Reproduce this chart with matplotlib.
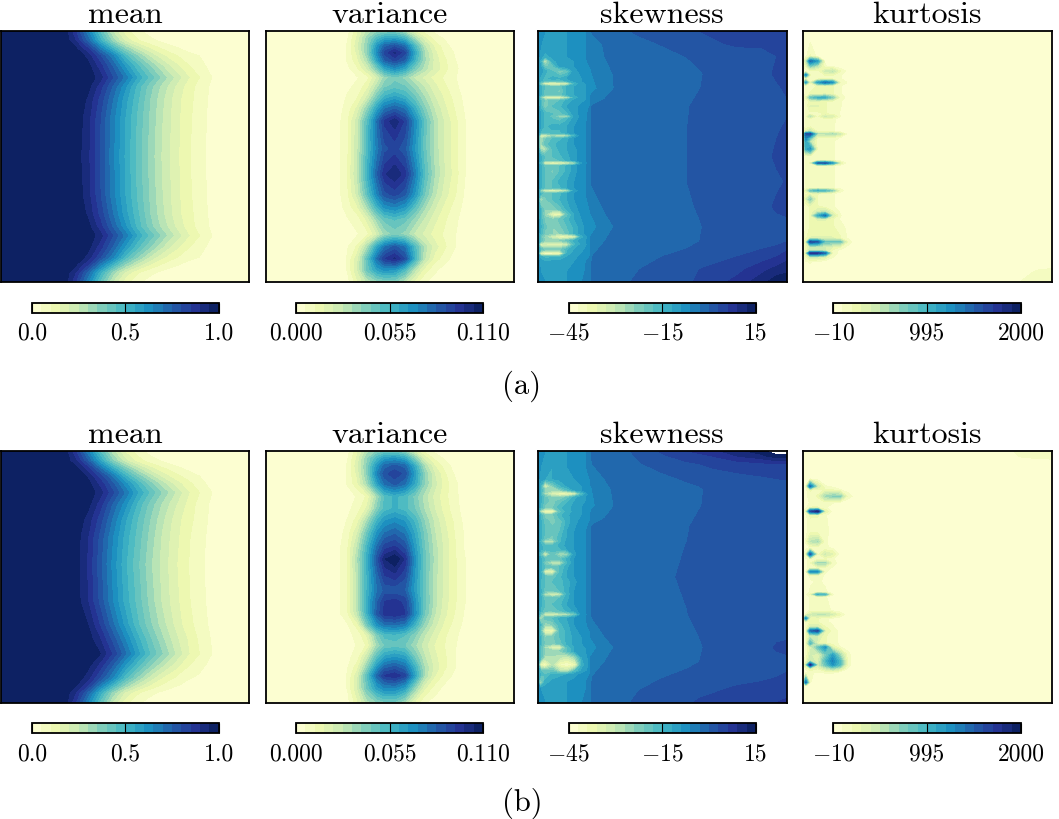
import numpy as np
import matplotlib
matplotlib.use('Agg')
import matplotlib.pyplot as plt

plt.rcParams['mathtext.fontset'] = 'cm'
plt.rcParams['font.family'] = ['cmr10', 'DejaVu Sans']
plt.rcParams['axes.unicode_minus'] = False
plt.rcParams['axes.formatter.use_mathtext'] = True

titles = ['mean', 'variance', 'skewness', 'kurtosis']
sublabels = ['(a)', '(b)']
ranges = [(0.0, 1.0), (0.0, 0.11), (-45, 15), (-10, 2000)]
tick_values = [[0.0, 0.5, 1.0], [0.0, 0.055, 0.11], [-45, -15, 15], [-10, 995, 2000]]
tick_labels = [['0.0', '0.5', '1.0'], ['0.000', '0.055', '0.110'],
               ['$-45$', '$-15$', '15'], ['$-10$', '995', '2000']]

# mean, in percent
mean_x = [0, .25, .3, .35, .4, .45, .5, .55, .6, .65, .7, .75, .8, .85, .9, 1]
mean_a_y = [0, .04, .07, .1, .14, .185, .22, .27, .34, .5, .66, .73, .78, .815, .86, .9, .93, .96, 1]
mean_a = [
    [100, 100, 85, 65, 43, 24, 12, 6, 3, 1, 0, 0, 0, 0, 0, 0],
    [100, 100, 90, 73, 52, 33, 19, 11, 6.5, 4, 2, 1, 0, 0, 0, 0],
    [100, 100, 96, 85, 67, 50, 34, 23, 15, 9.5, 6, 3.5, 2, .5, 0, 0],
    [100, 100, 100, 93, 80, 66, 48, 35, 24, 16, 11, 7, 5, 1, 0, 0],
    [100, 100, 100, 97, 87, 74, 59, 46, 35, 25, 17, 11, 7, 3, 0, 0],
    [100, 100, 100, 99, 92, 80, 68, 54, 43, 33, 24, 16, 10, 5, 1, 0],
    [100, 100, 100, 97, 87, 74, 61, 48, 37, 28, 20, 13, 8, 4, .5, 0],
    [100, 100, 100, 94, 83, 70, 57, 46, 35, 26, 18, 12, 8, 3.5, 0, 0],
    [100, 100, 99, 92, 80, 67, 55, 44, 34, 25, 17.5, 11.5, 7.5, 3, 0, 0],
    [100, 100, 98, 91, 79, 66, 54, 43, 33, 24, 17, 11, 7, 3, 0, 0],
    [100, 100, 99, 92, 80, 67, 55, 44, 34, 25, 17.5, 11.5, 7.5, 3, 0, 0],
    [100, 100, 100, 94, 83, 70, 57, 46, 35, 26, 18, 12, 8, 3.5, 0, 0],
    [100, 100, 100, 97, 87, 74, 61, 48, 37, 28, 20, 13, 8, 4, .5, 0],
    [100, 100, 100, 99, 92, 80, 68, 54, 43, 33, 24, 16, 10, 5, 1, 0],
    [100, 100, 100, 97, 87, 74, 59, 46, 35, 25, 17, 11, 7, 3, 0, 0],
    [100, 100, 100, 93, 80, 66, 48, 35, 24, 16, 11, 7, 5, 1, 0, 0],
    [100, 100, 96, 85, 67, 50, 34, 23, 15, 9.5, 6, 3.5, 2, .5, 0, 0],
    [100, 100, 90, 73, 52, 33, 19, 11, 6.5, 4, 2, 1, 0, 0, 0, 0],
    [100, 100, 85, 65, 43, 24, 12, 6, 3, 1, 0, 0, 0, 0, 0, 0],
]
mean_b_y = [0, .04, .07, .1, .13, .165, .21, .27, .34, .45, .6, .69, .75, .806, .85, .9, .93, .96, 1]
mean_b = [
    [100, 100, 85, 65, 44, 26, 14, 7, 3, 1, 0, 0, 0, 0, 0, 0],
    [100, 100, 91, 75, 55, 36, 22, 13, 7.5, 4.5, 2, 1, 0, 0, 0, 0],
    [100, 100, 97, 87, 70, 53, 38, 26, 17, 11, 7, 4, 2, .5, 0, 0],
    [100, 100, 100, 94, 82, 68, 51, 38, 27, 18, 12, 8, 5, 1, 0, 0],
    [100, 100, 100, 97, 88, 76, 62, 49, 37, 27, 18, 12, 7, 3, 0, 0],
    [100, 100, 100, 99, 92, 81, 69, 55, 44, 34, 25, 16, 10, 5, 1, 0],
    [100, 100, 100, 97, 87, 74, 62, 49, 38, 29, 21, 14, 8, 4, .5, 0],
    [100, 100, 99, 93, 82, 69, 56, 45, 35, 26, 18, 12, 8, 3.5, 0, 0],
    [100, 100, 98, 90, 78, 65, 53, 43, 33, 24, 17, 11, 7, 3, 0, 0],
    [100, 100, 98, 89, 76, 63, 51, 41, 31, 23, 16, 10.5, 6.5, 2.5, 0, 0],
    [100, 100, 98, 90, 78, 65, 53, 43, 33, 24, 17, 11, 7, 3, 0, 0],
    [100, 100, 100, 95, 84, 71, 58, 46, 36, 27, 19, 12, 8, 3.5, 0, 0],
    [100, 100, 100, 98, 90, 78, 65, 52, 41, 31, 22, 15, 9, 4.5, .5, 0],
    [100, 100, 100, 100, 95, 84, 71, 57, 45, 35, 25, 16, 10, 5, 1, 0],
    [100, 100, 100, 97, 88, 75, 60, 47, 36, 26, 18, 11, 7, 3, 0, 0],
    [100, 100, 100, 92, 79, 65, 47, 34, 23, 15, 10, 6, 4, 1, 0, 0],
    [100, 100, 96, 85, 67, 50, 34, 23, 15, 9.5, 6, 3.5, 2, .5, 0, 0],
    [100, 100, 90, 73, 52, 33, 19, 11, 6.5, 4, 2, 1, 0, 0, 0, 0],
    [100, 100, 85, 65, 43, 24, 12, 6, 3, 1, 0, 0, 0, 0, 0, 0],
]

# variance, in thousandths
var_x = [0, .28, .3, .33, .37, .41, .45, .48, .52, .56, .6, .64, .68, .72, .76, .8, .84, 1]
var_a_y = [0, .03, .06, .086, .115, .15, .185, .22, .26, .31, .36, .42, .47, .57, .65, .7, .75, .81, .86, .907, .95, 1]
var_a = [
    [0, 0, 1, 3, 15, 28, 36, 38, 38, 30, 16, 8, 4, 1.5, 0, 0, 0, 0],
    [0, 0, 2, 5, 18, 36, 52, 60, 62, 54, 34, 18, 9, 5, 1, 0, 0, 0],
    [0, 1, 3, 6, 20, 38, 66, 80, 86, 78, 52, 28, 15, 8, 3, .5, 0, 0],
    [0, 1, 3, 6, 18, 38, 70, 90, 100, 90, 60, 33, 18, 10, 5, 1, 0, 0],
    [0, 1, 3, 6, 15, 32, 62, 82, 90, 82, 56, 34, 20, 12, 6, 2, 0, 0],
    [0, 1, 2, 4, 10, 22, 42, 60, 68, 60, 42, 30, 20, 13, 7, 3, 0, 0],
    [0, 0, 1, 2.5, 5, 9, 22, 35, 42, 36, 26, 20, 14, 10, 6, 3, .5, 0],
    [0, 1, 2, 4, 7, 14, 30, 42, 46, 44, 35, 26, 18, 12, 7, 3, .5, 0],
    [0, 1, 3, 6, 10, 22, 42, 55, 60, 55, 44, 32, 22, 15, 9, 4, 1, 0],
    [0, 2, 4, 8, 18, 38, 62, 76, 82, 76, 58, 40, 27, 18, 11, 5, 1, 0],
    [0, 3, 5, 10, 25, 50, 78, 95, 103, 92, 70, 48, 31, 21, 13, 6, 1, 0],
    [0, 3, 5.5, 10, 26, 52, 76, 90, 95, 88, 68, 46, 31, 21, 13, 6, 1, 0],
    [0, 3, 5.5, 10, 26, 52, 74, 86, 90, 84, 66, 46, 31, 21, 13, 6, 1, 0],
    [0, 3, 5.5, 11, 28, 56, 82, 98, 104, 96, 74, 50, 33, 22, 14, 6, 1, 0],
    [0, 3, 5, 10, 24, 48, 72, 86, 90, 84, 66, 44, 29, 19, 12, 5, 1, 0],
    [0, 2, 4, 8, 16, 34, 56, 68, 72, 66, 50, 34, 23, 15, 9, 4, 1, 0],
    [0, 1, 3, 5, 8, 18, 36, 46, 50, 46, 36, 26, 18, 12, 7, 3, .5, 0],
    [0, 0, 1, 2.5, 5, 9, 22, 34, 40, 36, 26, 20, 14, 10, 6, 2.5, 0, 0],
    [0, 1, 2, 5, 12, 32, 60, 76, 84, 76, 52, 30, 19, 12, 6, 2, 0, 0],
    [0, 1, 3, 6, 20, 48, 78, 93, 100, 88, 56, 28, 14, 8, 3, .5, 0, 0],
    [0, 1, 3, 6, 22, 46, 62, 68, 66, 52, 30, 14, 7, 3, 1, 0, 0, 0],
    [0, 0, 1, 3, 15, 28, 36, 38, 38, 28, 14, 6, 3, 1, 0, 0, 0, 0],
]
var_b_y = [0, .03, .06, .09, .13, .18, .23, .28, .33, .38, .43, .49, .554, .6, .647, .69, .73, .773, .82, .86, .893, .94, 1]
var_b = [
    [0, 0, 1, 3, 15, 30, 38, 42, 42, 36, 20, 9, 4, 1.5, 0, 0, 0, 0],
    [0, 0, 2, 5, 18, 38, 54, 64, 66, 60, 40, 20, 10, 5, 1, 0, 0, 0],
    [0, 1, 3, 6, 20, 40, 66, 80, 84, 80, 58, 32, 17, 9, 3, .5, 0, 0],
    [0, 1, 3, 6, 18, 40, 72, 86, 92, 86, 64, 38, 22, 12, 5, 1, 0, 0],
    [0, 1, 3, 6, 15, 34, 62, 78, 84, 78, 60, 38, 24, 14, 7, 2, 0, 0],
    [0, 0, 1, 3, 6, 12, 34, 50, 56, 52, 42, 30, 20, 13, 7, 3, .5, 0],
    [0, 1, 2, 4, 8, 18, 40, 52, 56, 52, 44, 32, 22, 14, 8, 3, .5, 0],
    [0, 1, 3, 6, 14, 34, 56, 66, 70, 66, 54, 38, 26, 17, 10, 4, 1, 0],
    [0, 2, 4, 8, 22, 46, 68, 78, 82, 76, 60, 42, 28, 19, 11, 5, 1, 0],
    [0, 3, 5, 10, 28, 54, 78, 90, 94, 86, 64, 44, 30, 20, 12, 5, 1, 0],
    [0, 3, 5.5, 11, 32, 58, 86, 104, 110, 98, 68, 46, 31, 20, 12, 6, 1, 0],
    [0, 3, 5.5, 11, 30, 56, 80, 94, 98, 90, 66, 45, 30, 20, 12, 6, 1, 0],
    [0, 3, 5.5, 11, 30, 56, 76, 84, 84, 82, 64, 45, 30, 20, 12, 6, 1, 0],
    [0, 3, 5, 11, 30, 58, 82, 94, 96, 92, 68, 46, 30, 19, 12, 6, 1, 0],
    [0, 3, 5, 10, 28, 56, 84, 96, 98, 94, 70, 44, 28, 18, 11, 5, 1, 0],
    [0, 1, 3, 5, 14, 44, 68, 76, 78, 74, 56, 36, 24, 15, 9, 4, .5, 0],
    [0, 1, 2, 4, 7, 18, 42, 52, 54, 50, 40, 28, 19, 12, 7, 3, .5, 0],
    [0, 0, 1, 3, 6, 12, 34, 44, 46, 44, 34, 24, 16, 11, 6, 3, 0, 0],
    [0, 1, 2, 4, 8, 26, 50, 62, 66, 62, 44, 28, 18, 12, 6, 2.5, 0, 0],
    [0, 1, 3, 5, 14, 38, 66, 80, 84, 78, 56, 32, 20, 12, 6, 2, 0, 0],
    [0, 1, 3, 6, 20, 50, 80, 94, 98, 90, 62, 32, 17, 9, 4, 1, 0, 0],
    [0, 1, 3, 6, 22, 46, 64, 72, 72, 64, 38, 18, 9, 4, 1, 0, 0, 0],
    [0, 0, 1, 3, 15, 30, 38, 42, 42, 32, 15, 6, 3, 1, 0, 0, 0, 0],
]

# skewness, far field
skew_x = [.18, .22, .27, .32, .4, .5, .6, .65, .7, .8, .9, .96, 1]
skew_a_y = [0, .05, .1, .17, .23, .3, .4, .5, .6, .7, .78, .84, .9, .95, 1]
skew_a = [
    [-7, -2.5, -2, -1, .5, 1.5, 2, 3, 3.5, 4.5, 5, 6, 6],
    [-7, -5, -2.5, -2, -1, .2, 1.5, 2, 2.5, 3.5, 3.5, 4, 4],
    [-7, -5, -3, -2, -1.5, -1, .1, 1, 1.5, 1.5, 2, 3, 3.5],
    [-7, -6, -4, -2.5, -1.5, -1.5, -1.2, -.4, 1, 1.5, 1.8, 3.6, 4.5],
    [-8, -7, -4.5, -2.5, -1.5, -1.5, -1, -.1, 1, 1.5, 1.5, 2.5, 3.5],
    [-7, -2.8, -2, -1.5, -1.5, -1.5, -.3, 1, 1.5, 1.5, 1.5, 2, 2.5],
    [-6.5, -2.5, -2, -1.5, -1.5, -1.5, 0, 1.2, 1.5, 1.5, 1.5, 2.8, 3.5],
    [-6.5, -2.5, -2, -1.5, -1.5, -1.5, 0, 1.2, 1.5, 1.5, 2, 3.5, 4],
    [-6.5, -2.5, -2, -1.5, -1.5, -1.5, 0, 1.2, 1.5, 1.5, 1.5, 2.5, 3.2],
    [-7, -5, -2.5, -1.5, -1.5, -1.5, -.6, .4, 1.2, 1.5, 2, 3.5, 4],
    [-8, -7, -4.5, -2.5, -1.5, -1.5, -1, -.3, 1, 1.5, 1.5, 1.8, 2],
    [-7, -5, -3, -2, -1.5, -1.5, -1, 0, 1, 1.5, 1.5, 2, 3],
    [-7, -3, -2.5, -2, -1.2, 0, 1.2, 1.6, 2, 3, 4.5, 6, 8],
    [-7, -2.5, -2, -1.2, -.2, 1.5, 2.5, 3, 3.5, 5, 8, 10, 11],
    [-7, -2.5, -2, -1, .5, 1.5, 2.5, 3.5, 4.5, 7, 11, 14, 14.5],
]
skew_b_y = [0, .02, .05, .11, .15, .22, .3, .4, .5, .65, .72, .78, .84, .9, .95, 1]
skew_b = [
    [-7, -2.5, -2, -1, .5, 3.5, 6, 7, 8, 11, 14, 18, 18],
    [-7, -2.5, -2, -1.2, .2, 2.5, 4.5, 5, 6, 9, 11, 14, 14],
    [-7, -3, -2.5, -1.5, -.4, 1.5, 2.5, 3, 3.5, 4.5, 5.5, 6, 6],
    [-7, -5, -3, -2, -1.5, -1, .5, 1.5, 1.8, 2, 2.5, 3, 3.2],
    [-7, -6, -3.5, -2.5, -1.5, -1.5, -1, -.5, 1, 1.5, 1.6, 1.7, 1.8],
    [-8, -6.5, -4.5, -2.5, -1.5, -1.5, -1, -.2, 1, 1.5, 1.5, 1.5, 1.5],
    [-7, -2.8, -2, -1.5, -1.5, -1.5, -.3, 1, 1.5, 1.5, 1.5, 1.5, 1.5],
    [-6.5, -2.5, -2, -1.5, -1.5, -1.2, .2, 1.2, 1.5, 1.5, 1.5, 1.5, 1.5],
    [-6.5, -2.5, -2, -1.5, -1.5, -.6, .5, 1.3, 1.5, 1.5, 1.5, 1.5, 1.5],
    [-6.5, -2.5, -2, -1.5, -1.5, -1.2, -.1, 1, 1.5, 1.5, 1.5, 1.5, 1.5],
    [-7, -5, -2.5, -1.5, -1.5, -1.5, -.8, .2, 1.2, 1.5, 1.5, 1.7, 1.8],
    [-8, -7, -4.5, -2.5, -1.5, -1.5, -1.2, -.4, 1, 1.5, 1.6, 3.5, 4],
    [-7, -5, -3, -2, -1.5, -1.5, -1, 0, 1.2, 1.5, 1.5, 1.6, 2],
    [-7, -3, -2.5, -2, -1.2, -.2, 1.2, 1.6, 1.8, 2, 2.5, 3, 3.5],
    [-7, -2.5, -2, -1.2, -.2, 1.5, 1.8, 2, 2.6, 3.5, 4, 4.5, 5],
    [-7, -2.5, -2, -1, .5, 1.5, 2.5, 3.5, 3.8, 4.5, 5, 6, 6.5],
]

# skewness, near the left wall
wall_x = [0, .012, .03, .06, .09, .12, .15, .18, .21]
skew_wall_a_y = [0, .06, .1, .12, .14, .16, .19, .198, .21, .222, .24, .253, .265, .277, .3, .33, .34, .35, .38,
                 .405, .417, .429, .45, .47, .5, .514, .526, .538, .56, .6, .624, .636, .648, .67, .71, .73, .75,
                 .78, .805, .82, .835, .85, .87, .887, .9, .92, .96, 1]
skew_wall_a = [
    [-7, -8, -9, -11, -11, -9, -8, -7, -5],
    [-7, -9, -10, -12, -11, -9, -8, -7, -5],
    [-8, -10, -14, -11, -10, -9, -8, -7, -5],
    [-8, -14, -34, -14, -10, -9, -9, -8, -5],
    [-8, -12, -22, -20, -11, -10, -9, -8, -6],
    [-8, -10, -14, -18, -24, -20, -10, -8, -6],
    [-8, -14, -16, -14, -15, -12, -11, -9, -7],
    [-8, -14, -18, -18, -18, -14, -11, -9, -7],
    [-9, -26, -38, -40, -38, -36, -16, -10, -8],
    [-8, -14, -18, -20, -20, -14, -12, -10, -8],
    [-8, -14, -20, -20, -22, -14, -12, -10, -8],
    [-8, -14, -20, -20, -20, -14, -12, -10, -8],
    [-9, -24, -35, -38, -36, -30, -15, -10, -8],
    [-8, -16, -22, -20, -18, -14, -11, -10, -8],
    [-8, -16, -24, -18, -16, -12, -10, -8, -6],
    [-8, -12, -16, -18, -20, -16, -10, -8, -5],
    [-8, -12, -16, -20, -28, -28, -11, -8, -5],
    [-8, -12, -16, -18, -20, -16, -10, -8, -5],
    [-8, -12, -16, -14, -14, -12, -9, -7, -5],
    [-8, -16, -18, -16, -16, -12, -9, -7, -5],
    [-9, -34, -36, -28, -34, -30, -16, -7, -5],
    [-8, -28, -22, -18, -16, -13, -9, -7, -5],
    [-8, -28, -20, -16, -14, -12, -9, -7, -5],
    [-8, -28, -30, -18, -14, -12, -10, -7, -5],
    [-8, -14, -18, -18, -16, -13, -10, -7, -5],
    [-8, -14, -20, -20, -18, -14, -10, -7, -5],
    [-9, -18, -38, -40, -40, -36, -30, -10, -5],
    [-8, -14, -20, -20, -18, -14, -10, -7, -5],
    [-8, -14, -18, -22, -18, -14, -10, -7, -5],
    [-8, -14, -18, -18, -14, -12, -9, -7, -5],
    [-8, -14, -18, -18, -16, -12, -9, -7, -5],
    [-9, -26, -36, -38, -36, -30, -12, -7, -5],
    [-8, -16, -20, -18, -16, -12, -9, -7, -5],
    [-8, -30, -22, -18, -15, -12, -9, -8, -5],
    [-8, -16, -24, -24, -20, -14, -10, -8, -6],
    [-8, -16, -26, -38, -40, -20, -12, -8, -6],
    [-8, -16, -22, -24, -20, -16, -12, -9, -6],
    [-8, -14, -20, -24, -22, -18, -14, -10, -7],
    [-8, -16, -22, -24, -24, -20, -14, -10, -7],
    [-9, -20, -26, -34, -40, -40, -36, -14, -8],
    [-8, -18, -24, -24, -24, -20, -14, -10, -8],
    [-9, -36, -34, -38, -36, -32, -16, -11, -8],
    [-8, -18, -22, -22, -22, -16, -12, -10, -7],
    [-8, -36, -42, -42, -40, -14, -11, -9, -6],
    [-8, -14, -16, -16, -16, -12, -10, -8, -6],
    [-7, -10, -12, -11, -11, -10, -9, -7, -5],
    [-7, -9, -10, -12, -12, -9, -8, -7, -4],
    [-7, -8, -9, -10, -10, -9, -8, -6, -4],
]
skew_wall_b_y = [0, .06, .11, .14, .155, .17, .185, .2, .225, .24, .255, .28, .32, .345, .36, .375, .39, .41, .43, .445,
                 .46, .48, .5, .52, .555, .57, .585, .61, .635, .65, .665, .69, .715, .74, .765, .78, .795, .82, .85,
                 .875, .89, .92, .95, 1]
skew_wall_b = [
    [-7, -8, -9, -11, -11, -9, -8, -7, -5],
    [-7, -9, -11, -12, -11, -9, -8, -7, -5],
    [-8, -10, -12, -12, -11, -10, -9, -8, -6],
    [-8, -16, -36, -24, -16, -12, -10, -9, -7],
    [-8, -14, -24, -26, -24, -18, -12, -9, -7],
    [-8, -16, -28, -36, -40, -40, -36, -18, -8],
    [-8, -14, -20, -24, -24, -20, -13, -10, -8],
    [-8, -14, -20, -22, -20, -16, -12, -10, -8],
    [-8, -16, -22, -22, -16, -13, -11, -9, -7],
    [-9, -30, -42, -42, -20, -14, -11, -9, -7],
    [-8, -16, -22, -22, -16, -13, -10, -9, -7],
    [-8, -14, -20, -22, -20, -14, -10, -8, -6],
    [-8, -14, -18, -20, -18, -12, -9, -7, -5],
    [-8, -14, -20, -22, -16, -12, -9, -7, -5],
    [-8, -18, -30, -30, -16, -11, -9, -7, -5],
    [-8, -14, -18, -18, -14, -11, -9, -7, -5],
    [-8, -14, -16, -16, -16, -12, -9, -7, -5],
    [-8, -20, -36, -20, -28, -26, -10, -7, -5],
    [-8, -14, -18, -20, -20, -14, -9, -7, -5],
    [-8, -14, -24, -32, -32, -16, -9, -7, -5],
    [-8, -14, -18, -20, -18, -13, -9, -7, -5],
    [-8, -14, -36, -38, -18, -12, -9, -7, -5],
    [-8, -14, -18, -20, -16, -12, -9, -7, -5],
    [-8, -16, -18, -18, -16, -14, -10, -7, -5],
    [-8, -14, -20, -20, -18, -13, -9, -7, -5],
    [-8, -14, -30, -34, -32, -14, -9, -7, -5],
    [-8, -14, -20, -20, -18, -13, -9, -7, -5],
    [-8, -14, -18, -18, -16, -12, -9, -7, -5],
    [-8, -16, -20, -20, -18, -14, -11, -7, -5],
    [-9, -22, -32, -34, -32, -30, -22, -8, -5],
    [-9, -32, -20, -18, -14, -12, -9, -7, -5],
    [-8, -16, -26, -24, -16, -13, -9, -8, -5],
    [-8, -20, -38, -40, -18, -14, -10, -8, -6],
    [-8, -16, -24, -22, -18, -14, -11, -9, -7],
    [-8, -16, -22, -22, -20, -14, -11, -9, -7],
    [-8, -18, -28, -38, -38, -18, -12, -10, -8],
    [-8, -18, -24, -24, -24, -18, -12, -10, -8],
    [-8, -18, -28, -28, -30, -32, -26, -12, -8],
    [-9, -38, -42, -30, -40, -42, -38, -14, -8],
    [-8, -18, -20, -20, -28, -30, -18, -11, -8],
    [-8, -16, -18, -14, -13, -12, -10, -8, -6],
    [-8, -30, -14, -11, -10, -9, -8, -7, -5],
    [-7, -9, -10, -11, -11, -9, -8, -7, -5],
    [-7, -8, -9, -10, -10, -9, -8, -6, -4],
]

# kurtosis, in hundreds
kurt_x = [.2, .8, .88, .95, 1]
kurt_a_y = [0, .93, .96, 1]
kurt_a = [
    [0, 0, 0, 0, 0],
    [0, 0, 0, .2, .3],
    [0, 0, .4, 1.2, 1.4],
    [0, 0, 1, 1.4, 1.5],
]
kurt_b_y = [0, .02, .05, 1]
kurt_b = [
    [0, .2, 1.4, 1.5, 1.6],
    [0, 0, 1.1, 1.3, 1.4],
    [0, 0, 0, .1, .2],
    [0, 0, 0, 0, 0],
]
kurt_wall_a_y = [0, .1, .12, .14, .16, .175, .19, .205, .218, .25, .265, .28, .3, .33, .34, .35, .38, .4, .41, .425, .44, .47,
                 .5, .515, .526, .537, .56, .6, .625, .636, .647, .67, .7, .72, .735, .75, .78, .825, .84, .86, .875, .885, .9,
                 .92, 1]
kurt_wall_a = [
    [0, 0, 0, 0, 0, 0, 0, 0, 0],
    [0, .5, 2, .5, 0, 0, 0, 0, 0],
    [0, 4, 14, 11, .5, 0, 0, 0, 0],
    [0, 2, 7, 5, 1, .5, 0, 0, 0],
    [0, .5, 1, 1, 4, 5, 2, .5, 0],
    [0, 12, 2, 1, 2, 2, 1, .5, 0],
    [0, 2, 1, 1, 1.5, 1.5, 1, .5, 0],
    [0, 11, 2, 11, 14, 12, 2, .8, 0],
    [0, 1, 1.5, 2, 2.5, 2, 1, .5, 0],
    [0, 1, 2, 2, 2.5, 2, 1, .5, 0],
    [0, 2, 8, 10, 10, 7, 1.5, .5, 0],
    [0, 1, 2.5, 2.5, 2, 1.5, 1, .4, 0],
    [0, 1, 3, 3, 2, 1.5, 1, .3, 0],
    [0, 1, 1.5, 1.5, 2, 1.5, .8, .2, 0],
    [0, 1, 5, 1.5, 4, 3.5, 1, .2, 0],
    [0, 1, 1.5, 1.2, 1.5, 1.2, .5, .2, 0],
    [0, 1, 1.5, 1, 1, 1, .5, .1, 0],
    [0, 3, 5, 1.5, 1, 1, .5, .1, 0],
    [0, 15, 16, 5, 5, 6, 4, .2, 0],
    [0, 13, 9, 1.5, 1.5, 1.5, .8, .1, 0],
    [0, 11, 5, 1, 1, 1, .5, .1, 0],
    [0, 10, 12, 1.5, 1, 1, .5, .1, 0],
    [0, 1, 1, 1.5, 1.5, 1, .5, .1, 0],
    [0, 1, 1.2, 1.5, 1.5, 1, .5, .1, 0],
    [0, 1, 2, 14, 15, 11, 3, .1, 0],
    [0, 1, 1.2, 1.5, 1.5, 1, .5, .1, 0],
    [0, 1, 1, 1.5, 1.5, 1, .5, .1, 0],
    [0, 1, 1.5, 1.5, 1, 1, .5, .1, 0],
    [0, 1, 1.5, 1.5, 1.2, 1, .5, .1, 0],
    [0, 3, 8, 10, 9, 7, 1.5, .1, 0],
    [0, 1.5, 2, 2, 1.5, 1, .5, .1, 0],
    [0, 3, 7, 1.5, 1, 1, .5, .1, 0],
    [0, 1, 2, 2, 1.5, 1, .5, .2, 0],
    [0, 1, 2, 4, 5, 2, .8, .3, 0],
    [0, 1, 2, 10, 14, 4, 1, .3, 0],
    [0, 1, 2, 3, 3, 2, .8, .3, 0],
    [0, 1, 2, 2.5, 2.5, 2, 1.5, .5, 0],
    [0, 1.5, 3, 3, 3, 3, 2, .8, 0],
    [0, 3, 16, 15, 8, 8, 8, 2, 0],
    [0, 2, 4, 4, 4, 3, 2, .5, 0],
    [0, 2, 5, 5, 4, 1.5, .5, .2, 0],
    [0, 3, 17, 17, 14, 1.5, .5, .2, 0],
    [0, 1.5, 4, 4, 3, 1, .3, 0, 0],
    [0, .8, 1, .5, .2, 0, 0, 0, 0],
    [0, 0, 0, 0, 0, 0, 0, 0, 0],
]
kurt_wall_b_y = [0, .11, .14, .155, .18, .205, .225, .24, .255, .32, .36, .385, .41, .43, .445, .465, .48, .495, .52, .56, .57, .58,
                 .635, .65, .665, .68, .7, .715, .735, .765, .78, .81, .835, .85, .865, .88, .92, .935, 1]
kurt_wall_b = [
    [0, 0, 0, 0, 0, 0, 0, 0, 0],
    [0, 0, .5, .3, 0, 0, 0, 0, 0],
    [0, 1, 14, 4, 1, .5, 0, 0, 0],
    [0, .5, 2, 1.5, 2, 2, 1, .5, 0],
    [0, .5, 1.5, 2, 6, 7, 7, 1.5, .5],
    [0, .5, 1, 1.5, 1.5, 1, .5, .2, 0],
    [0, .5, 2, 2, 1, .5, .2, 0, 0],
    [0, 2, 16, 19, 3, .5, .2, 0, 0],
    [0, .5, 2, 2, 1, .5, .2, 0, 0],
    [0, .5, 1.5, 1.2, 1, .8, .3, 0, 0],
    [0, 1, 5, 6, 1, .6, .3, 0, 0],
    [0, .5, 1, 1, 1, .8, .3, 0, 0],
    [0, 2, 15, 1.5, 4, 3, .5, 0, 0],
    [0, .5, 1.5, 1.5, 1.5, 1, .4, 0, 0],
    [0, .5, 1.5, 6, 6, 1.5, .4, 0, 0],
    [0, .5, 1.5, 1.5, 1.2, .8, .3, 0, 0],
    [0, .5, 12, 12, 1, .5, .2, 0, 0],
    [0, .5, 1, 1.2, .8, .5, .2, 0, 0],
    [0, .5, .8, 1, .8, .5, .2, 0, 0],
    [0, .5, 1, 1.2, 1, .5, .2, 0, 0],
    [0, .5, 2, 10, 9, 1, .2, 0, 0],
    [0, .5, 1, 1.2, 1, .5, .2, 0, 0],
    [0, .5, 1, 1.5, 1.2, .8, .3, 0, 0],
    [0, 1, 4, 5, 5, 4, 2, .1, 0],
    [0, 12, 2, 2, 1, .8, .3, 0, 0],
    [0, 1, 2, 2, 1, .8, .3, 0, 0],
    [0, 1, 4, 4, 2, 1, .4, 0, 0],
    [0, 1, 14, 16, 3, 1.5, .5, 0, 0],
    [0, 1, 4, 4, 2, 1.5, .5, 0, 0],
    [0, 1, 9, 3, 2, 1.5, .6, .2, 0],
    [0, 1, 3, 8, 12, 3, 1, .3, 0],
    [0, 1, 4, 3, 7, 11, 6, 1.5, 0],
    [0, 1.5, 5, 3, 9, 13, 9, 1.5, 0],
    [0, 4, 18, 4, 8, 12, 9, 1.5, 0],
    [0, 1, 3, 2, 4, 6, 4, .8, 0],
    [0, .5, 1, .8, 1, 1, .5, 0, 0],
    [0, 14, 1, 0, 0, 0, 0, 0, 0],
    [0, .3, .2, 0, 0, 0, 0, 0, 0],
    [0, 0, 0, 0, 0, 0, 0, 0, 0],
]

W, H = 1059, 820
panel_x = [(1, 249), (265.5, 514), (537.5, 787), (802.7, 1052)]
panel_y = [(32, 283), (452, 703.5)]
cbar_x = [(32, 218.7), (296, 483), (568.5, 756), (833, 1021)]
cbar_y = [(303.5, 313.5), (724, 734)]
sub_y = [386, 803]


def px_axes(fig, x0, y0, x1, y1):
    return fig.add_axes([x0 / W, 1 - y1 / H, (x1 - x0) / W, (y1 - y0) / H])


def draw_field(ax, levels, x, y, z, scale=1.0):
    return ax.contourf(x, y, np.array(z, dtype=float) * scale, levels=levels, cmap='YlGnBu')


fig = plt.figure(figsize=(W / 100, H / 100), dpi=100)

fields = [
    [[(mean_x, mean_a_y, mean_a, 0.01)], [(var_x, var_a_y, var_a, 0.001)],
     [(skew_x, skew_a_y, skew_a, 1), (wall_x, skew_wall_a_y, skew_wall_a, 1)],
     [(kurt_x, kurt_a_y, kurt_a, 100), (wall_x, kurt_wall_a_y, kurt_wall_a, 100)]],
    [[(mean_x, mean_b_y, mean_b, 0.01)], [(var_x, var_b_y, var_b, 0.001)],
     [(skew_x, skew_b_y, skew_b, 1), (wall_x, skew_wall_b_y, skew_wall_b, 1)],
     [(kurt_x, kurt_b_y, kurt_b, 100), (wall_x, kurt_wall_b_y, kurt_wall_b, 100)]],
]

for r in range(2):
    for c in range(4):
        ax = px_axes(fig, panel_x[c][0], panel_y[r][0], panel_x[c][1], panel_y[r][1])
        levels = np.linspace(ranges[c][0], ranges[c][1], 21)
        cs = None
        for x, y, z, scale in fields[r][c]:
            cs = draw_field(ax, levels, x, y, z, scale)
        ax.set_xlim(0, 1)
        ax.set_ylim(1, 0)
        ax.set_xticks([])
        ax.set_yticks([])
        for s in ax.spines.values():
            s.set_linewidth(1.3)
        ax.text(0.5, 1.012, titles[c], transform=ax.transAxes, ha='center', va='bottom', fontsize=23)

        cax = px_axes(fig, cbar_x[c][0], cbar_y[r][0], cbar_x[c][1], cbar_y[r][1])
        cb = fig.colorbar(cs, cax=cax, orientation='horizontal', ticks=tick_values[c])
        cb.ax.set_xticklabels(tick_labels[c], fontsize=17)
        cb.ax.tick_params(direction='in', length=7.2, width=0.8, pad=6.5)
        cb.outline.set_linewidth(1.3)

    fig.text(522 / W, 1 - sub_y[r] / H, sublabels[r], ha='center', va='center', fontsize=22)

fig.savefig('out.png', dpi=100)
